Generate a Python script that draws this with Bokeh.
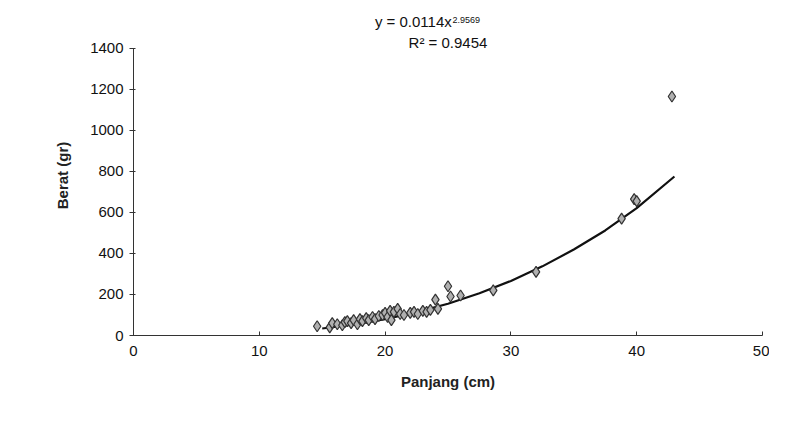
from bokeh.plotting import figure
from bokeh.models import Range1d, FixedTicker, Label
from bokeh.embed import file_html
from bokeh.resources import INLINE

# data
panjang = [14.6, 15.6, 15.8, 16.2, 16.6, 16.8, 17.0, 17.3, 17.5, 17.8, 18.0, 18.2,
           18.5, 18.7, 19.0, 19.2, 19.5, 19.8, 20.0, 20.2, 20.4, 20.5, 20.7, 21.0,
           21.2, 21.5, 22.0, 22.3, 22.6, 23.0, 23.3, 23.6, 24.0, 24.2, 25.0, 25.2,
           26.0, 28.6, 32.0, 38.8, 39.8, 40.0, 42.8]
berat = [45, 40, 60, 55, 50, 65, 70, 60, 75, 55, 80, 70,
         85, 75, 90, 80, 95, 100, 110, 90, 120, 75, 115, 130,
         105, 100, 110, 115, 105, 120, 115, 125, 175, 130, 240, 190,
         195, 220, 310, 570, 665, 655, 1165]

# trendline
trend_x = [15, 17.5, 20, 22.5, 25, 27.5, 30, 32.5, 35, 37.5, 40, 43]
trend_y = [34, 54, 80, 114, 155, 206, 266, 337, 419, 512, 621, 775]

x_ticks = [0, 10, 20, 30, 40, 50]
y_ticks = [0, 200, 400, 600, 800, 1000, 1200, 1400]

font = "Liberation Sans"

p = figure(width=769, height=424, output_backend="svg", toolbar_location=None,
           x_range=Range1d(0, 50), y_range=Range1d(0, 1560),
           min_border_left=133, min_border_right=7, min_border_top=15,
           min_border_bottom=89)
p.outline_line_color = None
p.grid.visible = False

p.xaxis.ticker = FixedTicker(ticks=x_ticks)
p.yaxis.ticker = FixedTicker(ticks=y_ticks)
p.yaxis.bounds = (0, 1400)
for ax in (p.xaxis, p.yaxis):
    ax.minor_tick_line_color = None
    ax.major_label_text_font = font
    ax.major_label_text_font_size = "15px"
    ax.major_label_text_color = "#111111"
    ax.axis_label_text_font = font
    ax.axis_label_text_font_size = "15px"
    ax.axis_label_text_font_style = "bold"
    ax.axis_label_text_color = "#222222"
    ax.axis_line_color = "#333333"
    ax.major_tick_line_color = "#333333"
p.xaxis.major_tick_in = 4
p.xaxis.major_tick_out = 0
p.xaxis.major_label_standoff = 10
p.yaxis.major_tick_out = 4
p.yaxis.major_label_standoff = 6
p.xaxis.axis_label = "Panjang (cm)"
p.yaxis.axis_label = "Berat (gr)"
p.xaxis.axis_label_standoff = 14
p.yaxis.axis_label_standoff = 16

p.line(trend_x, trend_y, line_color="#111111", line_width=2.2)
p.scatter(panjang, berat, marker="diamond", size=11, fill_color="#b0b0b0",
          line_color="#333333", line_width=1.2)

p.add_layout(Label(x=25.3, y=1488, text="y = 0.0114x", text_align="right",
                   text_font=font, text_font_size="15px", text_color="#111111"))
p.add_layout(Label(x=25.35, y=1522, text="2.9569", text_align="left",
                   text_font=font, text_font_size="9px", text_color="#111111"))
p.add_layout(Label(x=25, y=1385, text="R\u00b2 = 0.9454", text_align="center",
                   text_font=font, text_font_size="15px", text_color="#111111"))

open("out.html", "w").write(file_html(p, INLINE))
